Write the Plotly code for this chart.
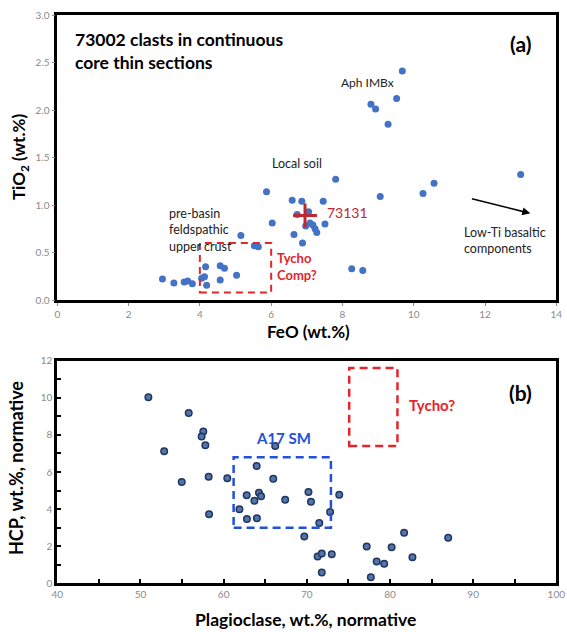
import plotly.graph_objects as go

# Panel (a): 73002 clasts
feo = [2.95, 3.27, 3.56, 3.66, 3.79, 4.05, 4.13, 4.16, 4.19, 4.57, 4.69, 4.57, 5.03,
       5.15, 5.53, 5.64, 5.87, 6.03, 6.59, 6.86, 6.73, 7.05, 6.97, 7.09, 7.17, 7.23,
       7.28, 7.51, 7.46, 7.81, 6.64, 6.88, 8.26, 8.57, 9.06, 8.80, 8.93, 9.28, 9.52,
       9.68, 10.26, 10.57, 13.0]
tio2 = [0.22, 0.18, 0.19, 0.20, 0.17, 0.23, 0.245, 0.35, 0.155, 0.36, 0.335, 0.21, 0.26,
        0.68, 0.57, 0.56, 1.14, 0.81, 1.05, 1.04, 0.90, 0.93, 0.78, 0.81, 0.79, 0.75,
        0.71, 0.80, 1.04, 1.27, 0.69, 0.60, 0.33, 0.31, 1.09, 2.06, 2.01, 1.85, 2.12,
        2.41, 1.12, 1.23, 1.32]
soil_feo = [6.95]
soil_tio2 = [0.89]

# Panel (b): normative mineralogy
plag = [50.95, 55.8, 52.85, 57.55, 57.35, 57.8, 54.96, 58.2, 58.25, 60.44, 66.2, 63.97,
        65.97, 62.77, 64.25, 64.5, 63.7, 67.4, 70.2, 70.5, 73.9, 61.9, 62.8, 64.0, 72.8,
        71.5, 69.7, 71.3, 71.8, 73.0, 71.8, 77.2, 78.4, 79.3, 77.7, 80.2, 81.7, 82.7, 87.0]
hcp = [10.03, 9.18, 7.12, 8.18, 7.91, 7.44, 5.46, 5.75, 3.72, 5.66, 7.40, 6.32,
       5.64, 4.74, 4.88, 4.69, 4.45, 4.50, 4.92, 4.40, 4.77, 3.99, 3.47, 3.51, 3.84,
       3.25, 2.52, 1.44, 1.60, 1.57, 0.58, 1.99, 1.17, 1.05, 0.33, 1.94, 2.73, 1.41, 2.45]

xa_range = [0, 14]
ya_range = [0, 3]
xb_range = [40, 100]
yb_range = [0, 12]

FONT = "Lato"
TICKGRAY = "#8a8a8a"
RED = "#e5242b"
DARKRED = "#c0262d"
BLUE = "#2250d8"

fig = go.Figure()
fig.add_trace(go.Scatter(x=feo, y=tio2, mode="markers", xaxis="x", yaxis="y",
                         marker=dict(color="#4472C4", size=7), showlegend=False))
fig.add_trace(go.Scatter(x=soil_feo, y=soil_tio2, mode="markers", xaxis="x", yaxis="y",
                         marker=dict(symbol="cross-thin", size=17,
                                     line=dict(color=DARKRED, width=3)),
                         showlegend=False))
fig.add_trace(go.Scatter(x=plag, y=hcp, mode="markers", xaxis="x2", yaxis="y2",
                         marker=dict(color="#5475aa", size=6.5,
                                     line=dict(color="#1f3560", width=1.5)),
                         showlegend=False))

W, H = 567, 632
axa = dict(showline=True, linewidth=2.5, linecolor="black", mirror=True, automargin=False,
           showgrid=False, zeroline=False, ticks="outside", ticklen=3, tickwidth=1,
           tickcolor=TICKGRAY, tickfont=dict(family=FONT, size=10, color=TICKGRAY))
axb = dict(showline=True, linewidth=3, linecolor="black", mirror=True, automargin=False,
           showgrid=False, zeroline=False, ticks="inside", ticklen=4, tickwidth=1.5,
           tickcolor="black", tickfont=dict(family=FONT, size=10, color=TICKGRAY))

fig.update_layout(
    width=W, height=H, margin=dict(l=0, r=0, t=0, b=0, autoexpand=False),
    plot_bgcolor="white", paper_bgcolor="white",
    font=dict(family=FONT, color="#222"),
    xaxis=dict(axa, domain=[57.3 / W, 556.3 / W], range=xa_range, dtick=2, anchor="y"),
    yaxis=dict(axa, domain=[(H - 300) / H, (H - 15) / H], range=ya_range, dtick=0.5,
               tickformat=".1f", anchor="x"),
    xaxis2=dict(axb, domain=[57.3 / W, 556.3 / W], range=xb_range, dtick=10, anchor="y2",
                minor=dict(dtick=5, ticks="inside", ticklen=4, tickwidth=1.5, tickcolor="black")),
    yaxis2=dict(axb, domain=[(H - 583.3) / H, (H - 360.7) / H], range=yb_range, dtick=2,
                anchor="x2",
                minor=dict(dtick=1, ticks="inside", ticklen=4, tickwidth=1.5, tickcolor="black")),
)

shapes = [
    dict(type="rect", xref="x", yref="y", x0=4.0, x1=6.0, y0=0.08, y1=0.6,
         line=dict(color=RED, width=2, dash="7px,5px")),
    dict(type="rect", xref="x2", yref="y2", x0=75.1, x1=80.9, y0=7.4, y1=11.6,
         line=dict(color=RED, width=2.5, dash="8px,5px")),
    dict(type="rect", xref="x2", yref="y2", x0=61.2, x1=72.9, y0=3.0, y1=6.8,
         line=dict(color=BLUE, width=2.5, dash="8px,5px")),
]
fig.update_layout(shapes=shapes)

def ann(text, x, y, xref="x", yref="y", size=12, color="#222", bold=False,
        xanchor="left", yanchor="middle", angle=0, align="left"):
    t = f"<b>{text}</b>" if bold else text
    fig.add_annotation(text=t, x=x, y=y, xref=xref, yref=yref, showarrow=False,
                       xanchor=xanchor, yanchor=yanchor, textangle=angle, align=align,
                       font=dict(family=FONT, size=size, color=color))

# Panel (a) texts
ann("73002 clasts in continuous<br>core thin sections", 0.43, 2.62, size=17.5, color="black", bold=True)
ann("(a)", 13.0, 2.705, size=21, color="black", bold=True, xanchor="center")
ann("Aph IMBx", 7.9, 2.29, size=12)
ann("Local soil", 5.97, 1.44, size=12.5)
ann("pre-basin<br>feldspathic<br>upper crust", 3.08, 0.74, size=12.5)
ann("73131", 7.52, 0.916, size=14, color=DARKRED)
ann("Tycho<br>Comp?", 6.1, 0.35, size=13, color=RED, bold=True)
ann("Low-Ti basaltic<br>components", 11.36, 0.63, size=12.5)
fig.add_annotation(x=13.27, y=0.912, ax=11.59, ay=1.07, xref="x", yref="y",
                   axref="x", ayref="y", text="", showarrow=True, arrowhead=2,
                   arrowsize=1, arrowwidth=1.6, arrowcolor="black")

# Panel (b) texts
ann("(b)", 95.75, 10.26, xref="x2", yref="y2", size=21, color="black", bold=True, xanchor="center")
ann("Tycho?", 82.1, 9.61, xref="x2", yref="y2", size=15, color=RED, bold=True)
ann("A17 SM", 67.2, 7.83, xref="x2", yref="y2", size=15, color=BLUE, bold=True, xanchor="center")

# Axis titles
ann("TiO<sub>2</sub> (wt.%)", 20 / W, (H - 157) / H, xref="paper", yref="paper", size=17,
    color="black", bold=True, xanchor="center", angle=-90)
ann("FeO (wt.%)", 308 / W, (H - 331) / H, xref="paper", yref="paper", size=17,
    color="black", bold=True, xanchor="center")
ann("HCP, wt.%, normative", 16 / W, (H - 468) / H, xref="paper", yref="paper", size=18,
    color="black", bold=True, xanchor="center", angle=-90)
ann("Plagioclase, wt.%, normative", 305 / W, 0.0, xref="paper", yref="paper",
    size=17.5, color="black", bold=True, xanchor="center", yanchor="bottom")

fig.write_html("out.html", config={"displayModeBar": False},
               post_script="document.body.style.margin='0';document.body.style.padding='0';")
